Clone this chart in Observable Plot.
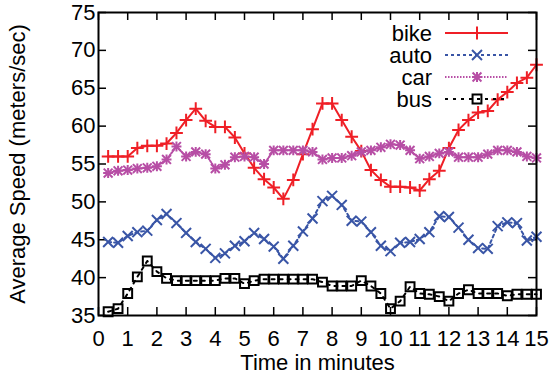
<!DOCTYPE html>
<html><head><meta charset="utf-8">
<script src="https://cdn.jsdelivr.net/npm/d3@7"></script>
<script src="https://cdn.jsdelivr.net/npm/@observablehq/plot@0.6"></script>
<style>body{margin:0;background:#fff}</style>
</head><body><div id="chart"></div>
<script>
const times = [0.33,0.67,1,1.33,1.67,2,2.33,2.67,3,3.33,3.67,4,4.33,4.67,5,5.33,5.67,6,6.33,6.67,7,7.33,7.67,8,8.33,8.67,9,9.33,9.67,10,10.33,10.67,11,11.33,11.67,12,12.33,12.67,13,13.33,13.67,14,14.33,14.67,15];
const bike = [56.0,56.0,56.0,57.1,57.4,57.4,57.7,59.1,60.8,62.3,60.7,59.9,59.9,58.5,56.4,54.5,53.0,51.9,50.4,52.9,56.3,59.6,63.0,63.0,60.8,58.6,56.7,54.2,52.9,52.0,52.0,51.9,51.5,53.0,54.1,57.1,59.5,60.8,61.8,62.0,63.5,64.5,65.7,66.4,68.1];
const auto = [44.7,44.6,45.5,46.0,46.2,47.6,48.4,47.2,45.9,44.7,43.8,42.6,43.2,44.2,44.8,45.9,45.1,44.1,42.5,44.2,46.1,47.8,50.1,50.8,49.6,47.5,47.4,46.0,44.2,43.5,44.6,44.7,45.1,46.0,48.1,48.0,46.6,45.0,43.9,43.8,46.8,47.3,47.2,44.9,45.4];
const car = [53.8,54.1,54.2,54.4,54.5,54.7,55.6,57.3,56.0,56.6,56.3,54.4,54.9,55.9,56.0,55.9,55.0,56.8,56.8,56.8,56.8,56.6,55.6,55.8,55.8,56.1,56.6,56.8,57.2,57.6,57.5,56.8,55.7,56.0,56.4,56.6,55.9,55.9,55.9,56.3,56.8,56.8,56.6,56.0,55.8];
const bus = [35.5,35.9,37.9,40.1,42.2,40.8,39.9,39.6,39.6,39.6,39.6,39.6,39.9,39.9,39.2,39.6,39.8,39.8,39.8,39.8,39.8,39.8,39.4,38.9,38.9,38.9,39.6,38.9,37.9,35.9,36.9,38.8,37.9,37.8,37.5,36.9,37.9,38.4,37.9,37.9,37.9,37.6,37.8,37.8,37.8];
const seriesNames = ["bike","auto","car","bus"];
const seriesColors = ["#ef1f26","#3955a6","#b74ea5","#000000"];
const xTicks = [0,1,2,3,4,5,6,7,8,9,10,11,12,13,14,15];
const yTicks = [35,40,45,50,55,60,65,70,75];

const W = 558, H = 387, mL = 98, mR = 22, mT = 12, mB = 72;
const innerW = W - mL - mR, innerH = H - mT - mB;
const FONT = "'Liberation Sans', Arial, sans-serif";
const rows = vals => times.map((t, i) => ({t, v: vals[i]}));
const styles = [
  {data: bike, dash: null, syms: [{s: "plus", r: 4.2}]},
  {data: auto, dash: "3,3", syms: [{s: "times", r: 4.6}]},
  {data: car, dash: "1.5,1.5", syms: [{s: "plus", r: 3.3}, {s: "times", r: 4.1}]},
  {data: bus, dash: "3,5", syms: [{s: "square", r: 5}]}
];
const symMap = {plus: d3.symbolPlus, times: d3.symbolTimes, square: d3.symbolSquare};

const marks = [];
styles.forEach((st, i) => {
  marks.push(Plot.line(rows(st.data), {x: "t", y: "v", stroke: seriesColors[i], strokeWidth: 2, strokeDasharray: st.dash ?? undefined}));
  st.syms.forEach(sy => {
    marks.push(Plot.dot(rows(st.data), {x: "t", y: "v", symbol: sy.s, r: sy.r, stroke: seriesColors[i], fill: "none", strokeWidth: 2}));
  });
});

const plot = Plot.plot({
  width: W, height: H,
  marginLeft: mL, marginRight: mR, marginTop: mT, marginBottom: mB,
  style: {fontFamily: FONT, fontSize: "22px", color: "#000", background: "#fff"},
  x: {domain: [0, 15]},
  y: {domain: [35, 75]},
  marks: [
    Plot.axisX({ticks: xTicks, tickSize: 0, tickPadding: 15, label: "Time in minutes", labelAnchor: "center", labelOffset: 54, labelArrow: false}),
    Plot.axisY({ticks: yTicks, tickSize: 0, tickPadding: 3, label: "Average Speed (meters/sec)", labelAnchor: "center", labelOffset: 89, labelArrow: false}),
    Plot.tickX(xTicks, {x: d => d, insetTop: innerH - 8, stroke: "#000", strokeWidth: 1.5}),
    Plot.tickX(xTicks, {x: d => d, insetBottom: innerH - 8, stroke: "#000", strokeWidth: 1.5}),
    Plot.tickY(yTicks, {y: d => d, insetRight: innerW - 8, stroke: "#000", strokeWidth: 1.5}),
    Plot.tickY(yTicks, {y: d => d, insetLeft: innerW - 8, stroke: "#000", strokeWidth: 1.5}),
    ...marks,
    Plot.frame({stroke: "#000", strokeWidth: 2})
  ]
});

// legend inside plot, top-right
const svg = d3.select(plot);
const lg = svg.append("g").attr("font-size", 22).attr("font-family", FONT);
const right = mL + innerW;
seriesNames.forEach((name, i) => {
  const y = mT + 21 + i * 22;
  lg.append("text").attr("x", right - 104).attr("y", y).attr("dy", "0.35em").attr("text-anchor", "end").attr("fill", "#000").text(name);
  lg.append("line").attr("x1", right - 91).attr("x2", right - 28).attr("y1", y).attr("y2", y)
    .attr("stroke", seriesColors[i]).attr("stroke-width", 2).attr("stroke-dasharray", styles[i].dash);
  styles[i].syms.forEach(sy => {
    lg.append("path").attr("transform", `translate(${right - 59},${y})`)
      .attr("d", d3.symbol(symMap[sy.s], Math.PI * sy.r * sy.r)())
      .attr("fill", "none").attr("stroke", seriesColors[i]).attr("stroke-width", 2);
  });
});

document.getElementById("chart").appendChild(plot);
</script>
</body></html>
